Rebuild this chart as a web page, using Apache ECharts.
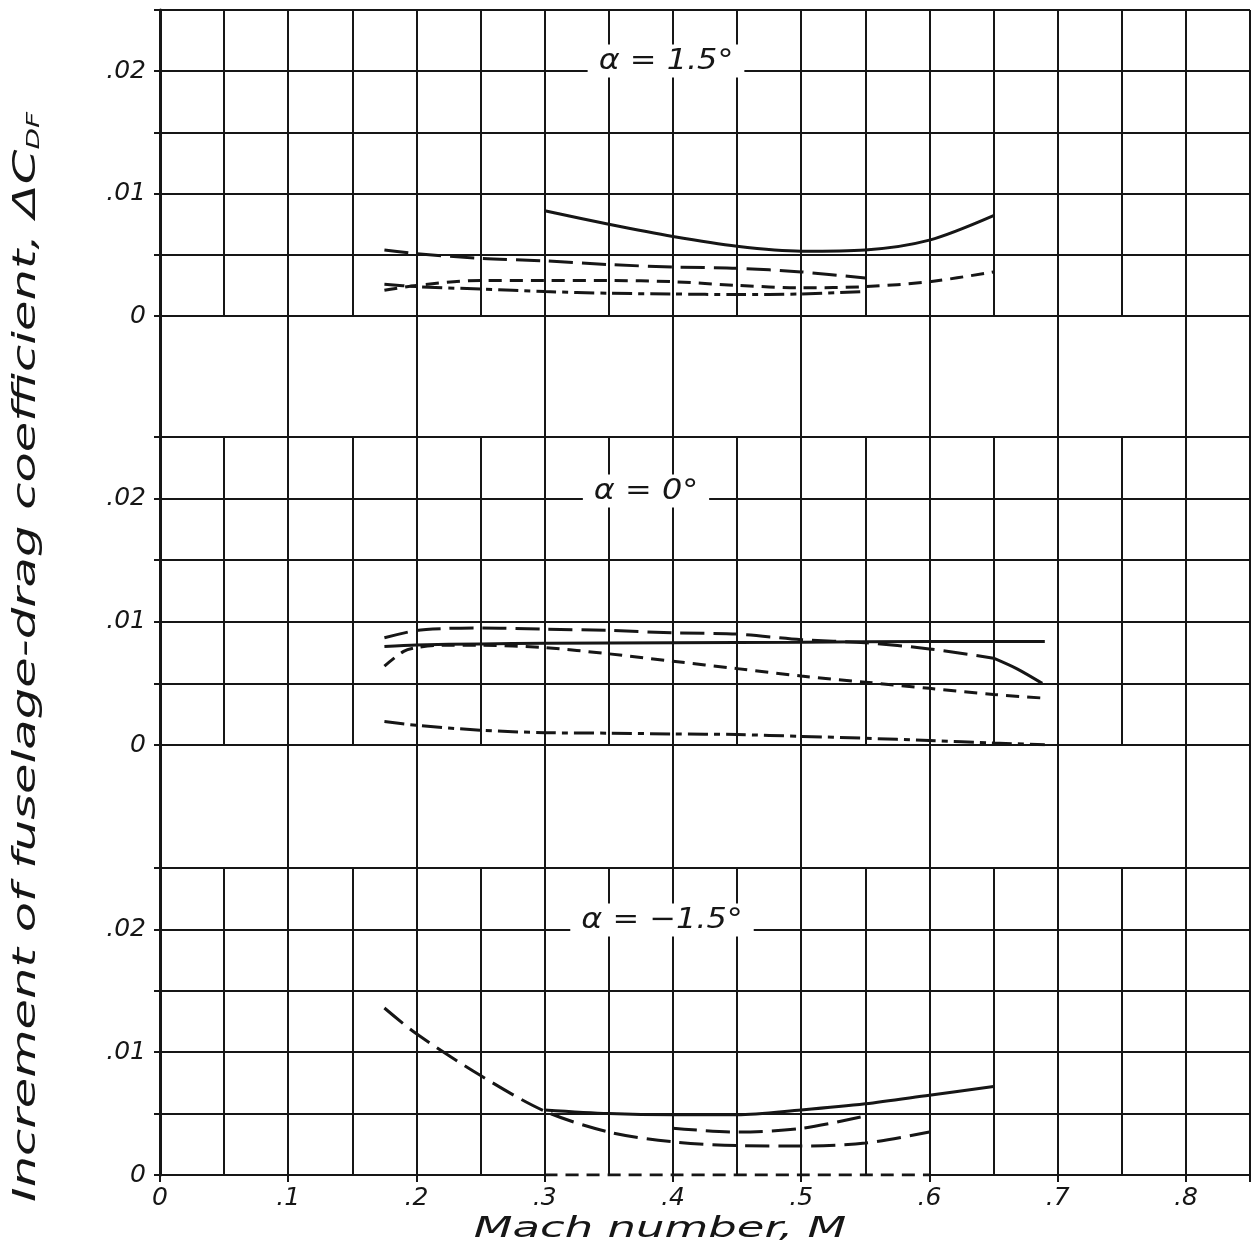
<!DOCTYPE html>
<html><head><meta charset="utf-8">
<script src="https://cdn.jsdelivr.net/npm/echarts@6/dist/echarts.min.js"></script>
<style>html,body{margin:0;padding:0;background:#fff}#c{width:1257px;height:1247px}</style>
</head><body><div id="c"></div>
<script>
// ---------- tick labels / text ----------
const machTickLabels = {0:'0',1:'.1',2:'.2',3:'.3',4:'.4',5:'.5',6:'.6',7:'.7',8:'.8'};
const coefTickLabels = {0:'0',10:'.01',20:'.02'};   // keyed by value*1000
const panelTitles = ['α = 1.5°','α = 0°','α = −1.5°'];
const xTitle = 'Mach number, M';
const yTitle = 'Increment of fuselage-drag coefficient, ΔC';
const yTitleSub = 'DF';

// ---------- data: [Mach, ΔC_DF] ----------
// alpha = 1.5 deg
const a15_solid    = [[0.3,0.0086],[0.35,0.0075],[0.4,0.0065],[0.45,0.0057],[0.5,0.0053],[0.55,0.0054],[0.6,0.0062],[0.65,0.0082]];
const a15_longDash = [[0.175,0.0054],[0.2,0.0051],[0.25,0.0047],[0.3,0.0045],[0.35,0.0042],[0.4,0.0040],[0.45,0.0039],[0.5,0.0036],[0.55,0.0031]];
const a15_dash     = [[0.175,0.0021],[0.2,0.0025],[0.25,0.0029],[0.3,0.0029],[0.35,0.0029],[0.4,0.0028],[0.45,0.0025],[0.5,0.0023],[0.55,0.0024],[0.6,0.0028],[0.65,0.0036]];
const a15_dashDot  = [[0.175,0.0026],[0.2,0.0024],[0.25,0.0022],[0.3,0.0020],[0.35,0.00186],[0.4,0.0018],[0.45,0.00175],[0.5,0.0018],[0.55,0.0020]];
// alpha = 0 deg
const a0_longDash  = [[0.175,0.0087],[0.2,0.0093],[0.22,0.00945],[0.25,0.0095],[0.3,0.0094],[0.35,0.0093],[0.4,0.0091],[0.45,0.0090],[0.5,0.00855],[0.55,0.0083],[0.6,0.0078],[0.65,0.00705]];
const a0_longDashTail = [[0.65,0.00705],[0.668,0.0062],[0.688,0.0050]];
const a0_solid     = [[0.175,0.0080],[0.2,0.00812],[0.25,0.0082],[0.3,0.00825],[0.4,0.0083],[0.5,0.00835],[0.6,0.0084],[0.69,0.0084]];
const a0_dash      = [[0.175,0.0064],[0.19,0.0076],[0.2,0.0079],[0.22,0.0081],[0.25,0.0081],[0.3,0.0079],[0.35,0.0074],[0.4,0.0068],[0.45,0.0062],[0.5,0.0056],[0.55,0.0051],[0.6,0.0046],[0.65,0.0041],[0.69,0.0038]];
const a0_dashDot   = [[0.175,0.0019],[0.2,0.0016],[0.25,0.0012],[0.3,0.0010],[0.35,0.00096],[0.4,0.0009],[0.45,0.00085],[0.5,0.0007],[0.55,0.00055],[0.6,0.00036],[0.65,0.00016],[0.69,0.00003]];
// alpha = -1.5 deg
const am15_longDash = [[0.175,0.0136],[0.2,0.0115],[0.25,0.0081],[0.3,0.0052],[0.35,0.0035],[0.4,0.0027],[0.45,0.0024],[0.5,0.00236],[0.55,0.0026],[0.6,0.0035]];
const am15_solid    = [[0.3,0.0053],[0.35,0.0050],[0.4,0.0049],[0.45,0.0049],[0.5,0.0053],[0.55,0.0058],[0.6,0.0065],[0.65,0.0072]];
const am15_dash     = [[0.4,0.0038],[0.45,0.0035],[0.5,0.0038],[0.55,0.0048]];
const am15_zero     = [[0.3,0],[0.6,0]];
// pieces of the bottom panel's zero rule that are drawn solid (Mach ranges)
const bottomZeroRule = [[0,0.3],[0.6,0.85]];

// ---------- styling ----------
const INK = '#161616';
const FONT = 'DejaVu Sans';
const L = 160, W = 1090;
const DASH = {solid:'solid', longDash:[24,9], dash:[13,8], dashDot:[20,6,6,6]};

const grids = [
  {left:L, width:W, top:10,  height:306},
  {left:L, width:W, top:316, height:121},
  {left:L, width:W, top:437, height:308},
  {left:L, width:W, top:745, height:123},
  {left:L, width:W, top:868, height:307}
];
const isPanel = i => i % 2 === 0;

const xAxes = grids.map((g,i) => ({
  type:'value', gridIndex:i, min:0, max:0.85, interval: isPanel(i) ? 0.05 : 0.1,
  axisLine:{show:false}, axisTick:{show:false}, axisLabel:{show:false},
  splitLine:{show:true, lineStyle:{color:INK, width:2}}
}));
xAxes.push({
  type:'value', gridIndex:4, min:0, max:0.85, interval:0.1, position:'bottom',
  axisLine:{show:false}, splitLine:{show:false},
  axisTick:{show:true, length:7, inside:false, lineStyle:{color:INK,width:2}},
  axisLabel:{show:true, margin:11, color:INK, fontSize:25, fontStyle:'italic', fontFamily:FONT,
    formatter: v => { const k = Math.round(v*100); return (k % 10 === 0 && machTickLabels[k/10] !== undefined) ? machTickLabels[k/10] : ''; }}
});

const yAxes = grids.map((g,i) => isPanel(i) ? ({
  type:'value', gridIndex:i, min:0, max:0.025, interval:0.005,
  axisLine:{show:true, lineStyle:{color:INK, width:3}},
  axisTick:{show:true, length:6, lineStyle:{color:INK, width:2}},
  axisLabel:{show:true, margin:14, color:INK, fontSize:25, fontStyle:'italic', fontFamily:FONT,
    formatter: v => { const k = Math.round(v*1000); return coefTickLabels[k] !== undefined ? coefTickLabels[k] : ''; }},
  splitLine:{show:true, showMinLine: i !== 4, lineStyle:{color:INK, width:2}}
}) : ({
  type:'value', gridIndex:i, min:0, max:1,
  axisLine:{show:true, lineStyle:{color:INK, width:3}},
  axisTick:{show:false}, axisLabel:{show:false}, splitLine:{show:false}
}));

function curve(data, grid, dash, extra) {
  return Object.assign({
    type:'line', xAxisIndex:grid, yAxisIndex:grid, data:data, showSymbol:false, symbol:'none',
    smooth:0.3, silent:true, z:5,
    lineStyle:{color:INK, width:3, type:dash, cap:'butt'}
  }, extra || {});
}

const series = [
  curve(a15_solid,0,DASH.solid),
  curve(a15_longDash,0,DASH.longDash),
  curve(a15_dash,0,DASH.dash),
  curve(a15_dashDot,0,DASH.dashDot),
  curve(a0_longDash,2,DASH.longDash),
  curve(a0_longDashTail,2,DASH.solid),
  curve(a0_solid,2,DASH.solid),
  curve(a0_dash,2,DASH.dash),
  curve(a0_dashDot,2,DASH.dashDot),
  curve(am15_longDash,4,DASH.longDash),
  curve(am15_solid,4,DASH.solid),
  curve(am15_dash,4,DASH.longDash),
  curve(am15_zero,4,DASH.dash,{
    markLine:{silent:true, symbol:'none', label:{show:false}, animation:false,
      lineStyle:{color:INK, width:2, type:'solid'},
      data: bottomZeroRule.map(r => [{coord:[r[0],0]},{coord:[r[1],0]}])}
  })
];

const titleStyle = {fill:INK, fontSize:29, fontStyle:'italic', fontFamily:FONT,
  align:'center', verticalAlign:'middle', backgroundColor:'#fff', padding:[2,10]};

const graphic = [
  {type:'text', x:666, y:61, z:50, scaleX:1.1, style:Object.assign({text:panelTitles[0]}, titleStyle)},
  {type:'text', x:646, y:491, z:50, scaleX:1.1, style:Object.assign({text:panelTitles[1]}, titleStyle)},
  {type:'text', x:662, y:920, z:50, scaleX:1.1, style:Object.assign({text:panelTitles[2]}, titleStyle)},
  {type:'text', x:660, y:1229, scaleX:1.55, style:{text:xTitle, fill:INK, fontSize:29, fontStyle:'italic', fontFamily:FONT, align:'center', verticalAlign:'middle'}},
  {type:'text', x:27, y:657, rotation:Math.PI/2, scaleX:1.55, style:{
    text: yTitle + '{s|' + yTitleSub + '}', fill:INK, fontSize:32, fontStyle:'italic', fontFamily:FONT,
    align:'center', verticalAlign:'middle',
    rich:{s:{fontSize:18, fontStyle:'italic', fontFamily:FONT, fill:INK, verticalAlign:'bottom', padding:[12,0,0,0]}}
  }}
];

const chart = echarts.init(document.getElementById('c'), null, {renderer:'canvas'});
chart.setOption({
  backgroundColor:'#fff', animation:false,
  grid: grids, xAxis: xAxes, yAxis: yAxes, series: series, graphic: graphic
});
</script></body></html>
